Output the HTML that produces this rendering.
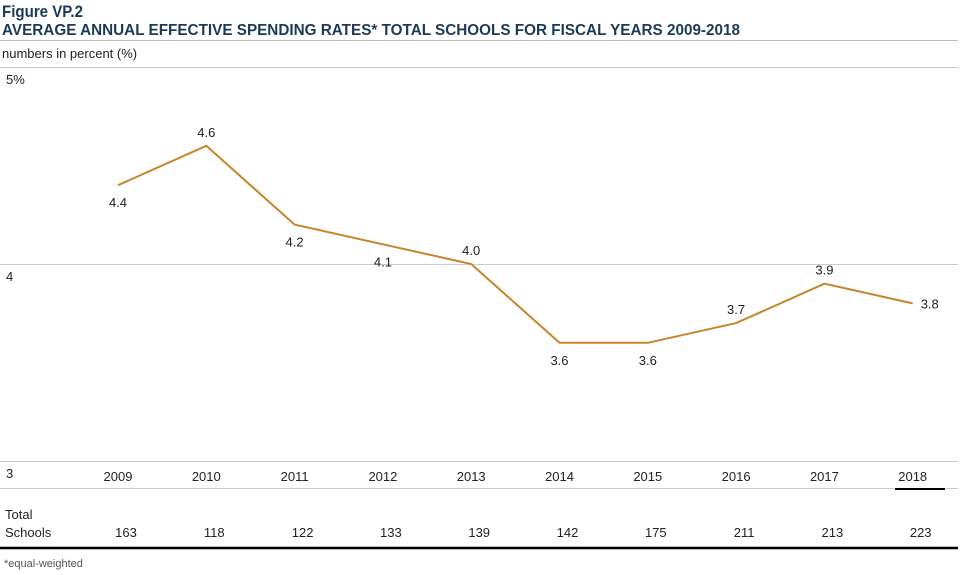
<!DOCTYPE html>
<html><head><meta charset="utf-8"><style>
body{margin:0;background:#fff;font-family:"Liberation Sans",sans-serif}
svg text{font-family:"Liberation Sans",sans-serif}
</style></head><body>
<svg width="968" height="570" xmlns="http://www.w3.org/2000/svg">
<text x="2" y="17" font-size="17" font-weight="bold" fill="#1c3a57" textLength="81" lengthAdjust="spacingAndGlyphs">Figure VP.2</text>
<text x="2" y="35" font-size="16" font-weight="bold" fill="#1c3a57" textLength="738" lengthAdjust="spacingAndGlyphs">AVERAGE ANNUAL EFFECTIVE SPENDING RATES* TOTAL SCHOOLS FOR FISCAL YEARS 2009-2018</text>
<line x1="0" x2="958" y1="40.5" y2="40.5" stroke="#bbb"/>
<text x="2" y="58" font-size="13" fill="#222">numbers in percent (%)</text>
<g id="grid"></g>
<g id="marks"></g>
<line x1="895" x2="945" y1="489" y2="489" stroke="#000" stroke-width="2"/>
<text x="5" y="519" font-size="13" fill="#222">Total</text>
<text x="5" y="537" font-size="13" fill="#222">Schools</text>
<line x1="0" x2="958" y1="548" y2="548" stroke="#000" stroke-width="2.5"/>
<text x="4" y="567" font-size="11" fill="#555">*equal-weighted</text>
</svg>
<script>
const years=[2009,2010,2011,2012,2013,2014,2015,2016,2017,2018];
const rates=[4.4,4.6,4.2,4.1,4.0,3.6,3.6,3.7,3.9,3.8];
const schools=[163,118,122,133,139,142,175,211,213,223];
const yTicks=[5,4,3];
const yTickLabels=["5%","4","3"];
const labelPos=["below","above","below","below","above","below","below","above","above","right"];
const NS="http://www.w3.org/2000/svg";
const x=i=>118+i*88.3;
const y=v=>264-(v-4)*197;
function mk(tag,attrs,parent,txt){const e=document.createElementNS(NS,tag);for(const k in attrs)e.setAttribute(k,attrs[k]);if(txt!==undefined)e.textContent=txt;parent.appendChild(e);return e;}
const grid=document.getElementById('grid'),marks=document.getElementById('marks');
yTicks.forEach((t,i)=>{
 const l=mk('line',{x1:0,x2:958,y1:y(t)+0.5,y2:y(t)+0.5,stroke:'#ccc'},grid);
 
 
 const tx=mk('text',{x:6,y:y(t)+17,'font-size':13,fill:'#222'},grid,yTickLabels[i]);
 
 
});
const rl=mk('line',{x1:0,x2:958,y1:488.5,y2:488.5,stroke:'#ccc'},grid);


const path=mk('polyline',{points:rates.map((v,i)=>x(i)+','+y(v)).join(' '),fill:'none',stroke:'#c8842a','stroke-width':2},marks);


rates.forEach((v,i)=>{
 let lx=x(i),ly=y(v),anchor='middle';
 if(labelPos[i]==='above')ly-=9;else if(labelPos[i]==='below')ly+=22;else{lx+=8;ly+=5;anchor='start';}
 const t=mk('text',{x:lx,y:ly,'font-size':13,fill:'#222','text-anchor':anchor},marks,v.toFixed(1));
 
 
 const yt=mk('text',{x:x(i),y:481,'font-size':13,fill:'#222','text-anchor':'middle'},marks,years[i]);
 
 
 const st=mk('text',{x:x(i)+8,y:537,'font-size':13,fill:'#222','text-anchor':'middle'},marks,schools[i]);
 
 
});
</script>
</body></html>
